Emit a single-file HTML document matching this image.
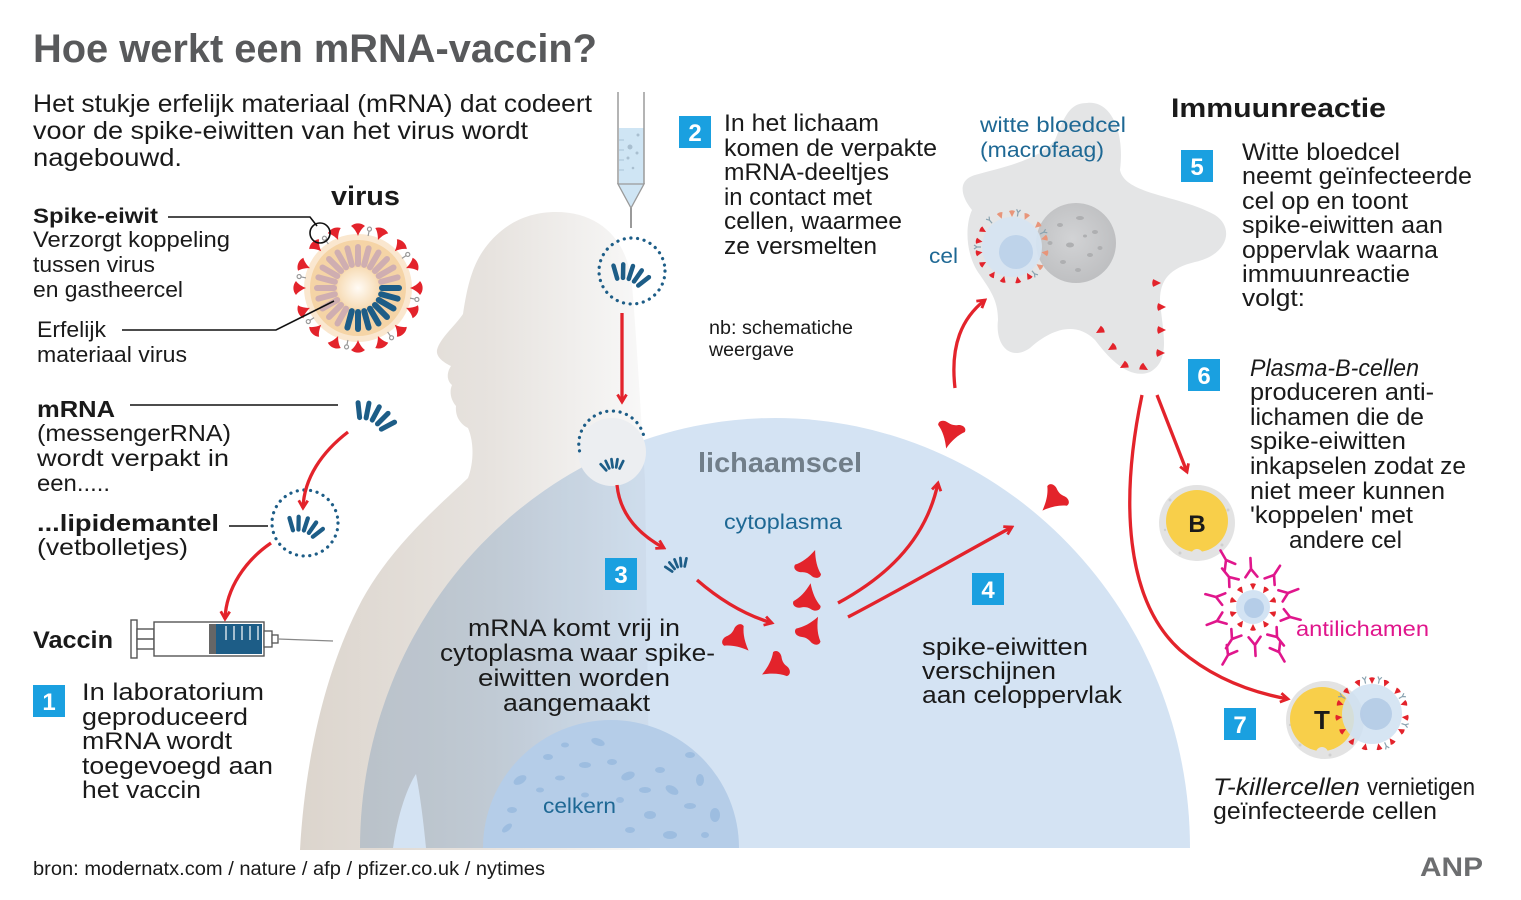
<!DOCTYPE html>
<html><head><meta charset="utf-8">
<style>
html,body{margin:0;padding:0;background:#fff;}
svg{display:block;}
text{font-family:"Liberation Sans",Arial,sans-serif;fill:#1a1a1a;}
.b{font-weight:bold;}
.t{font-size:23px;}
.s{font-size:21px;}
.bl{fill:#1e6894;font-size:21px;}
.num{fill:#fff;font-weight:bold;font-size:24px;}
</style></head>
<body>
<svg width="1521" height="900" viewBox="0 0 1521 900" xmlns="http://www.w3.org/2000/svg">
<defs>
 <linearGradient id="bodyg" x1="300" y1="0" x2="650" y2="0" gradientUnits="userSpaceOnUse">
  <stop offset="0" stop-color="#dcd5cd"/>
  <stop offset="0.55" stop-color="#e7e3df"/>
  <stop offset="1" stop-color="#f9f9f9"/>
 </linearGradient>
 <radialGradient id="core" cx="0.5" cy="0.5" r="0.5">
  <stop offset="0" stop-color="#fffbf5"/><stop offset="1" stop-color="#f7dcb6"/>
 </radialGradient>
 <radialGradient id="nuc" cx="0.45" cy="0.45" r="0.6">
  <stop offset="0" stop-color="#d2d3d5"/><stop offset="1" stop-color="#bdbec0"/>
 </radialGradient>
 <marker id="ah" viewBox="0 0 12 12" refX="9.5" refY="6" markerWidth="12" markerHeight="12" markerUnits="userSpaceOnUse" orient="auto">
  <path d="M2,1.5 L9.5,6 L2,10.5" fill="none" stroke="#e3232b" stroke-width="2.8"/>
 </marker>
 <g id="mr" stroke="#1d5d87" stroke-width="5" stroke-linecap="round" fill="none">
  <g transform="translate(0,30)">
   <line x1="0" y1="-22" x2="0" y2="-37" transform="rotate(-34)"/>
   <line x1="0" y1="-22" x2="0" y2="-37" transform="rotate(-17)"/>
   <line x1="0" y1="-22" x2="0" y2="-37"/>
   <line x1="0" y1="-22" x2="0" y2="-37" transform="rotate(17)"/>
   <line x1="0" y1="-22" x2="0" y2="-37" transform="rotate(34)"/>
  </g>
 </g>
 <path id="vs" d="M0,0 C1.5,-4 4,-8 7,-10 C3,-13.5 -3,-13.5 -7,-10 C-4,-8 -1.5,-4 0,0 Z" fill="#e3232b"/>
 <path id="bs" d="M0,-13 C3,-5 7,1 12,5 C13,9 8,11 4,9 C1,8 -1,8 -4,9 C-8,11 -13,9 -12,5 C-7,1 -3,-5 0,-13 Z" fill="#e3232b"/>
 <path id="ts" d="M0,0 L-3,-6 Q0,-7.5 3,-6 Z" fill="#e3232b"/>
 <path id="tso" d="M0,0 L-3,-6 Q0,-7.5 3,-6 Z" fill="#e8957a"/>
 <g id="gy" stroke="#8aa3b0" stroke-width="1.2" fill="none"><path d="M0,0 L0,-4 M0,-4 L-2,-7 M0,-4 L2,-7"/></g>
 <g id="ab" fill="none" stroke="#e0168c" stroke-width="2.6" stroke-linecap="round"><path d="M0,11 L0,0 M0,0 L-6,-8 M0,0 L6,-8"/></g>
</defs>

<rect width="1521" height="900" fill="#fff"/>

<!-- Title -->
<text x="33" y="62" class="b" font-size="40" textLength="564" lengthAdjust="spacingAndGlyphs" style="fill:#58595b">Hoe werkt een mRNA-vaccin?</text>
<text x="33" y="112" font-size="25" textLength="559" lengthAdjust="spacingAndGlyphs">Het stukje erfelijk materiaal (mRNA) dat codeert</text>
<text x="33" y="139" font-size="25" textLength="495" lengthAdjust="spacingAndGlyphs">voor de spike-eiwitten van het virus wordt</text>
<text x="33" y="166" font-size="25" textLength="149" lengthAdjust="spacingAndGlyphs">nagebouwd.</text>

<!-- body silhouette -->
<path d="M300,850 C305,760 325,670 362,600 C392,545 440,505 468,478 C474,462 474,442 468,428 C460,424 455,416 456,406 C451,400 449,392 452,385 C446,380 447,372 451,366 C443,362 436,357 437,350 C440,338 455,326 463,314 C466,295 470,268 485,248 C502,225 526,212 556,212 C600,212 628,240 632,285 C636,330 640,400 645,480 L650,850 Z" fill="url(#bodyg)"/>

<!-- lichaamscel -->
<path d="M360,848 A415,430 0 0 1 1190,848 Z" fill="#d4e3f3" style="mix-blend-mode:multiply"/>
<path d="M393,848 C398,812 408,786 416,774 C421,800 424,828 426,848 Z" fill="#d4e3f3"/>
<!-- nucleus -->
<path d="M483,848 A128,128 0 0 1 739,848 Z" fill="#b5cde8"/>
<g fill="#9dbde0">
 <ellipse cx="520" cy="780" rx="7" ry="4" transform="rotate(-30 520 780)"/>
 <ellipse cx="512" cy="810" rx="5" ry="3"/>
 <ellipse cx="507" cy="828" rx="6" ry="3" transform="rotate(-40 507 828)"/>
 <ellipse cx="548" cy="757" rx="5" ry="3"/>
 <ellipse cx="565" cy="745" rx="4" ry="2.5"/>
 <ellipse cx="585" cy="765" rx="6" ry="3"/>
 <ellipse cx="598" cy="742" rx="7" ry="3.5" transform="rotate(20 598 742)"/>
 <ellipse cx="612" cy="762" rx="5" ry="3"/>
 <ellipse cx="628" cy="776" rx="7" ry="4" transform="rotate(-20 628 776)"/>
 <ellipse cx="645" cy="790" rx="6" ry="3"/>
 <ellipse cx="660" cy="770" rx="5" ry="3"/>
 <ellipse cx="672" cy="790" rx="7" ry="4" transform="rotate(30 672 790)"/>
 <ellipse cx="690" cy="806" rx="6" ry="3"/>
 <ellipse cx="700" cy="780" rx="4" ry="6"/>
 <ellipse cx="715" cy="815" rx="5" ry="7"/>
 <ellipse cx="650" cy="815" rx="6" ry="4"/>
 <ellipse cx="630" cy="830" rx="5" ry="3"/>
 <ellipse cx="670" cy="835" rx="7" ry="4"/>
 <ellipse cx="585" cy="795" rx="4" ry="2.5"/>
 <ellipse cx="540" cy="790" rx="4" ry="2.5"/>
 <ellipse cx="560" cy="778" rx="5" ry="2.5"/>
 <ellipse cx="620" cy="800" rx="4" ry="3"/>
 <ellipse cx="690" cy="755" rx="5" ry="3"/>
 <ellipse cx="705" cy="835" rx="4" ry="3"/>
</g>
<text x="543" y="813" class="bl" textLength="73" lengthAdjust="spacingAndGlyphs">celkern</text>

<!-- Virus -->
<g transform="translate(358,288)">
 <circle r="54" fill="#fae7cf"/>
 <circle r="48" fill="#f5d4a6"/>
 <circle r="21" fill="url(#core)"/>
 <g stroke-width="6" stroke-linecap="round">
  <g stroke="#cfaeb1">
   <line x1="24" x2="41" transform="rotate(120)"/><line x1="24" x2="41" transform="rotate(135)"/>
   <line x1="24" x2="41" transform="rotate(150)"/><line x1="24" x2="41" transform="rotate(165)"/>
   <line x1="24" x2="41" transform="rotate(180)"/><line x1="24" x2="41" transform="rotate(195)"/>
   <line x1="24" x2="41" transform="rotate(210)"/><line x1="24" x2="41" transform="rotate(225)"/>
   <line x1="24" x2="41" transform="rotate(240)"/><line x1="24" x2="41" transform="rotate(255)"/>
   <line x1="24" x2="41" transform="rotate(270)"/><line x1="24" x2="41" transform="rotate(285)"/>
   <line x1="24" x2="41" transform="rotate(300)"/><line x1="24" x2="41" transform="rotate(315)"/>
   <line x1="24" x2="41" transform="rotate(330)"/><line x1="24" x2="41" transform="rotate(345)"/>
  </g>
  <g stroke="#1d5d87">
   <line x1="24" x2="41" transform="rotate(0)"/><line x1="24" x2="41" transform="rotate(15)"/>
   <line x1="24" x2="41" transform="rotate(30)"/><line x1="24" x2="41" transform="rotate(45)"/>
   <line x1="24" x2="41" transform="rotate(60)"/><line x1="24" x2="41" transform="rotate(75)"/>
   <line x1="24" x2="41" transform="rotate(90)"/><line x1="24" x2="41" transform="rotate(105)"/>
  </g>
 </g>
 <use href="#vs" transform="rotate(0) translate(0,-52)"/>
 <use href="#vs" transform="rotate(22.5) translate(0,-52)"/>
 <use href="#vs" transform="rotate(45) translate(0,-52)"/>
 <use href="#vs" transform="rotate(67.5) translate(0,-52)"/>
 <use href="#vs" transform="rotate(90) translate(0,-52)"/>
 <use href="#vs" transform="rotate(112.5) translate(0,-52)"/>
 <use href="#vs" transform="rotate(135) translate(0,-52)"/>
 <use href="#vs" transform="rotate(157.5) translate(0,-52)"/>
 <use href="#vs" transform="rotate(180) translate(0,-52)"/>
 <use href="#vs" transform="rotate(202.5) translate(0,-52)"/>
 <use href="#vs" transform="rotate(225) translate(0,-52)"/>
 <use href="#vs" transform="rotate(247.5) translate(0,-52)"/>
 <use href="#vs" transform="rotate(270) translate(0,-52)"/>
 <use href="#vs" transform="rotate(292.5) translate(0,-52)"/>
 <use href="#vs" transform="rotate(315) translate(0,-52)"/>
 <use href="#vs" transform="rotate(337.5) translate(0,-52)"/>
 <g stroke="#999" stroke-width="1.2" fill="#fff">
  <g transform="rotate(11)"><line y1="-53" y2="-58"/><circle cy="-60" r="2"/></g>
  <g transform="rotate(56)"><line y1="-53" y2="-58"/><circle cy="-60" r="2"/></g>
  <g transform="rotate(101)"><line y1="-53" y2="-58"/><circle cy="-60" r="2"/></g>
  <g transform="rotate(146)"><line y1="-53" y2="-58"/><circle cy="-60" r="2"/></g>
  <g transform="rotate(191)"><line y1="-53" y2="-58"/><circle cy="-60" r="2"/></g>
  <g transform="rotate(236)"><line y1="-53" y2="-58"/><circle cy="-60" r="2"/></g>
  <g transform="rotate(281)"><line y1="-53" y2="-58"/><circle cy="-60" r="2"/></g>
  <g transform="rotate(326)"><line y1="-53" y2="-58"/><circle cy="-60" r="2"/></g>
 </g>
</g>
<text x="331" y="205" class="b" font-size="27" textLength="69" lengthAdjust="spacingAndGlyphs">virus</text>

<!-- left labels -->
<g stroke="#111" stroke-width="1.6" fill="none">
 <path d="M168,217 L310,217 L317,226"/>
 <circle cx="320" cy="233" r="10"/>
 <path d="M122,330 L276,330 L334,301"/>
 <path d="M130,405 L338,405"/>
 <path d="M229,526 L268,526"/>
</g>
<text x="33" y="223" class="b" font-size="21" textLength="125" lengthAdjust="spacingAndGlyphs">Spike-eiwit</text>
<text x="33" y="247" font-size="22" textLength="197" lengthAdjust="spacingAndGlyphs">Verzorgt koppeling</text>
<text x="33" y="272" font-size="22" textLength="122" lengthAdjust="spacingAndGlyphs">tussen virus</text>
<text x="33" y="297" font-size="22" textLength="150" lengthAdjust="spacingAndGlyphs">en gastheercel</text>
<text x="37" y="337" font-size="22" textLength="69" lengthAdjust="spacingAndGlyphs">Erfelijk</text>
<text x="37" y="362" font-size="22" textLength="150" lengthAdjust="spacingAndGlyphs">materiaal virus</text>
<text x="37" y="417" class="b" font-size="23" textLength="78" lengthAdjust="spacingAndGlyphs">mRNA</text>
<text x="37" y="441" class="t" textLength="194" lengthAdjust="spacingAndGlyphs">(messengerRNA)</text>
<text x="37" y="466" class="t" textLength="192" lengthAdjust="spacingAndGlyphs">wordt verpakt in</text>
<text x="37" y="491" class="t" textLength="73" lengthAdjust="spacingAndGlyphs">een.....</text>
<text x="37" y="531" class="b" font-size="23" textLength="182" lengthAdjust="spacingAndGlyphs">...lipidemantel</text>
<text x="37" y="555" class="t" textLength="151" lengthAdjust="spacingAndGlyphs">(vetbolletjes)</text>

<!-- mRNA + lipid -->
<use href="#mr" transform="translate(376,413) rotate(28)"/>
<circle cx="305" cy="523" r="33" fill="none" stroke="#1d5d87" stroke-width="3.2" stroke-dasharray="0.1 6.6" stroke-linecap="round"/>
<use href="#mr" transform="translate(306,524) rotate(18) scale(0.85)"/>

<!-- Syringe -->
<text x="33" y="648" class="b" font-size="24" textLength="80" lengthAdjust="spacingAndGlyphs">Vaccin</text>
<g stroke="#555" stroke-width="1.4" fill="#fff">
 <rect x="131" y="620" width="6" height="38"/>
 <rect x="137" y="629" width="17" height="20"/>
 <line x1="137" y1="639" x2="154" y2="639"/>
 <rect x="154" y="622" width="110" height="34"/>
</g>
<rect x="214" y="624" width="48" height="30" fill="#1d5d87"/>
<rect x="209" y="624" width="7" height="30" fill="#666"/>
<g stroke="#fff" stroke-width="1.2">
 <line x1="226" y1="626" x2="226" y2="640"/><line x1="234" y1="626" x2="234" y2="640"/>
 <line x1="242" y1="626" x2="242" y2="640"/><line x1="250" y1="626" x2="250" y2="640"/>
 <line x1="258" y1="626" x2="258" y2="640"/>
</g>
<g stroke="#555" stroke-width="1.3" fill="#fff">
 <rect x="264" y="631" width="8" height="16"/>
 <rect x="272" y="635" width="6" height="8"/>
</g>
<line x1="278" y1="639" x2="333" y2="641" stroke="#888" stroke-width="1.3"/>

<!-- step 1 -->
<rect x="33" y="685" width="32" height="32" fill="#1aa0e0"/>
<text x="49" y="710" class="num" text-anchor="middle">1</text>
<text x="82" y="700" font-size="24" textLength="182" lengthAdjust="spacingAndGlyphs">In laboratorium</text>
<text x="82" y="725" font-size="24" textLength="166" lengthAdjust="spacingAndGlyphs">geproduceerd</text>
<text x="82" y="749" font-size="24" textLength="150" lengthAdjust="spacingAndGlyphs">mRNA wordt</text>
<text x="82" y="774" font-size="24" textLength="191" lengthAdjust="spacingAndGlyphs">toegevoegd aan</text>
<text x="82" y="798" font-size="24" textLength="119" lengthAdjust="spacingAndGlyphs">het vaccin</text>

<text x="33" y="875" font-size="19" textLength="512" lengthAdjust="spacingAndGlyphs">bron: modernatx.com / nature / afp / pfizer.co.uk / nytimes</text>
<text x="1420" y="876" class="b" font-size="27" textLength="63" lengthAdjust="spacingAndGlyphs" style="fill:#6d6e70">ANP</text>

<!-- Pipette -->
<rect x="619" y="128" width="25" height="56" fill="#cfe5f4"/>
<path d="M618,184 L644,184 L631,208 Z" fill="#cfe5f4" stroke="#9a9a9a" stroke-width="1.3"/>
<g stroke="#9a9a9a" stroke-width="1.5">
 <line x1="618" y1="92" x2="618" y2="184"/>
 <line x1="644" y1="92" x2="644" y2="184"/>
 <line x1="631" y1="208" x2="631" y2="228" stroke-width="2"/>
</g>
<g stroke="#a9c3d6" stroke-width="1">
 <line x1="619" y1="140" x2="624" y2="140"/><line x1="619" y1="150" x2="624" y2="150"/>
 <line x1="619" y1="160" x2="624" y2="160"/><line x1="619" y1="170" x2="624" y2="170"/>
</g>
<g fill="#a9bfd0">
 <circle cx="630" cy="147" r="2.5"/><circle cx="638" cy="135" r="1.5"/>
 <circle cx="628" cy="158" r="1.5"/><circle cx="637" cy="153" r="1.5"/><circle cx="633" cy="168" r="1.3"/>
</g>

<circle cx="632" cy="271" r="33" fill="none" stroke="#1d5d87" stroke-width="3.2" stroke-dasharray="0.1 6.6" stroke-linecap="round"/>
<use href="#mr" transform="translate(631,272) rotate(18) scale(0.9)"/>

<!-- Lipid 3 merging -->
<circle cx="612" cy="452" r="34" fill="#eceef1"/>
<path d="M579,452 A33,33 0 0 1 645,452" fill="none" stroke="#1d5d87" stroke-width="3.2" stroke-dasharray="0.1 6.6" stroke-linecap="round" transform="rotate(-12 612 445) translate(0,-8)"/>
<use href="#mr" transform="translate(612,463) rotate(-8) scale(0.55)"/>
<use href="#mr" transform="translate(676,563) rotate(-22) scale(0.55)"/>

<!-- Step 2 -->
<rect x="679" y="116" width="32" height="32" fill="#1aa0e0"/>
<text x="695" y="141" class="num" text-anchor="middle">2</text>
<text x="724" y="131" font-size="24" textLength="155" lengthAdjust="spacingAndGlyphs">In het lichaam</text>
<text x="724" y="156" font-size="24" textLength="213" lengthAdjust="spacingAndGlyphs">komen de verpakte</text>
<text x="724" y="180" font-size="24" textLength="165" lengthAdjust="spacingAndGlyphs">mRNA-deeltjes</text>
<text x="724" y="205" font-size="24" textLength="148" lengthAdjust="spacingAndGlyphs">in contact met</text>
<text x="724" y="229" font-size="24" textLength="178" lengthAdjust="spacingAndGlyphs">cellen, waarmee</text>
<text x="724" y="254" font-size="24" textLength="153" lengthAdjust="spacingAndGlyphs">ze versmelten</text>
<text x="709" y="334" font-size="19" textLength="144" lengthAdjust="spacingAndGlyphs">nb: schematiche</text>
<text x="709" y="356" font-size="19" textLength="85" lengthAdjust="spacingAndGlyphs">weergave</text>

<text x="698" y="472" class="b" font-size="28" textLength="164" lengthAdjust="spacingAndGlyphs" style="fill:#717e89">lichaamscel</text>
<text x="724" y="529" class="bl" textLength="118" lengthAdjust="spacingAndGlyphs">cytoplasma</text>

<!-- Step 3 -->
<rect x="605" y="558" width="32" height="32" fill="#1aa0e0"/>
<text x="621" y="583" class="num" text-anchor="middle">3</text>
<text x="468" y="636" font-size="24" textLength="212" lengthAdjust="spacingAndGlyphs">mRNA komt vrij in</text>
<text x="440" y="661" font-size="24" textLength="275" lengthAdjust="spacingAndGlyphs">cytoplasma waar spike-</text>
<text x="478" y="686" font-size="24" textLength="192" lengthAdjust="spacingAndGlyphs">eiwitten worden</text>
<text x="503" y="711" font-size="24" textLength="147" lengthAdjust="spacingAndGlyphs">aangemaakt</text>

<!-- cytoplasm spikes -->
<use href="#bs" transform="translate(810,564) rotate(20) scale(1.15)"/>
<use href="#bs" transform="translate(808,598) rotate(10) scale(1.15)"/>
<use href="#bs" transform="translate(811,630) rotate(28) scale(1.15)"/>
<use href="#bs" transform="translate(738,640) rotate(135) scale(1.15)"/>
<use href="#bs" transform="translate(775,667) rotate(-120) scale(1.15)"/>
<use href="#bs" transform="translate(950,434) rotate(195) scale(1.15)"/>
<use href="#bs" transform="translate(1053,500) rotate(225) scale(1.15)"/>

<!-- Step 4 -->
<rect x="972" y="573" width="32" height="32" fill="#1aa0e0"/>
<text x="988" y="598" class="num" text-anchor="middle">4</text>
<text x="922" y="655" font-size="24" textLength="166" lengthAdjust="spacingAndGlyphs">spike-eiwitten</text>
<text x="922" y="679" font-size="24" textLength="134" lengthAdjust="spacingAndGlyphs">verschijnen</text>
<text x="922" y="703" font-size="24" textLength="200" lengthAdjust="spacingAndGlyphs">aan celoppervlak</text>

<!-- Macrophage -->
<path d="M1087,103 C1110,100 1125,130 1120,170 C1125,195 1180,195 1215,215 C1235,228 1228,255 1195,262 C1170,268 1160,280 1160,300 C1162,330 1172,360 1150,372 C1130,380 1110,360 1095,340 C1075,320 1050,330 1030,348 C1010,362 995,345 998,320 C998,300 990,290 980,275 C965,255 965,225 972,210 C960,195 958,180 975,175 C1000,168 1040,160 1055,140 C1065,115 1070,103 1087,103 Z" fill="#e4e5e6"/>
<circle cx="1076" cy="243" r="40" fill="url(#nuc)"/>
<g fill="#aeafb1">
 <ellipse cx="1060" cy="225" rx="3" ry="2"/><ellipse cx="1080" cy="218" rx="4" ry="2"/>
 <ellipse cx="1095" cy="232" rx="3" ry="2"/><ellipse cx="1070" cy="245" rx="4" ry="2.5"/>
 <ellipse cx="1090" cy="255" rx="3" ry="2"/><ellipse cx="1063" cy="262" rx="3" ry="2"/>
 <ellipse cx="1100" cy="248" rx="2.5" ry="2"/><ellipse cx="1078" cy="270" rx="3" ry="2"/>
 <ellipse cx="1050" cy="243" rx="2.5" ry="2"/><ellipse cx="1085" cy="236" rx="2" ry="1.5"/>
</g>
<circle cx="1012" cy="247" r="30" fill="#d6e4f2" opacity="0.92"/>
<circle cx="1016" cy="252" r="17" fill="#bed3ea"/>
<g transform="translate(1012,247)">
 <use href="#ts" transform="rotate(-100) translate(0,-30)"/>
 <use href="#ts" transform="rotate(-80) translate(0,-30)"/>
 <use href="#ts" transform="rotate(-120) translate(0,-30)"/>
 <use href="#ts" transform="rotate(-145) translate(0,-30)"/>
 <use href="#ts" transform="rotate(-165) translate(0,-30)"/>
 <use href="#ts" transform="rotate(-60) translate(0,-30)"/>
 <use href="#tso" transform="rotate(-20) translate(0,-30)"/>
 <use href="#tso" transform="rotate(0) translate(0,-30)"/>
 <use href="#tso" transform="rotate(25) translate(0,-30)"/>
 <use href="#tso" transform="rotate(50) translate(0,-30)"/>
 <use href="#tso" transform="rotate(75) translate(0,-30)"/>
 <use href="#tso" transform="rotate(100) translate(0,-30)"/>
 <use href="#tso" transform="rotate(125) translate(0,-30)"/>
 <use href="#ts" transform="rotate(150) translate(0,-30)"/>
 <use href="#ts" transform="rotate(170) translate(0,-30)"/>
 <use href="#gy" transform="rotate(-90) translate(0,-31)"/>
 <use href="#gy" transform="rotate(-40) translate(0,-31)"/>
 <use href="#gy" transform="rotate(10) translate(0,-31)"/>
 <use href="#gy" transform="rotate(65) translate(0,-31)"/>
 <use href="#gy" transform="rotate(140) translate(0,-31)"/>
</g>
<use href="#ts" transform="translate(1161,283) rotate(-90) scale(1.3)"/>
<use href="#ts" transform="translate(1166,307) rotate(-90) scale(1.3)"/>
<use href="#ts" transform="translate(1166,330) rotate(-90) scale(1.3)"/>
<use href="#ts" transform="translate(1165,353) rotate(-90) scale(1.3)"/>
<use href="#ts" transform="translate(1148,370) rotate(-60) scale(1.3)"/>
<use href="#ts" transform="translate(1096,333) rotate(60) scale(1.3)"/>
<use href="#ts" transform="translate(1108,350) rotate(60) scale(1.3)"/>
<use href="#ts" transform="translate(1120,368) rotate(60) scale(1.3)"/>

<text x="980" y="132" class="bl" textLength="146" lengthAdjust="spacingAndGlyphs">witte bloedcel</text>
<text x="980" y="157" class="bl" textLength="124" lengthAdjust="spacingAndGlyphs">(macrofaag)</text>
<text x="929" y="263" class="bl" textLength="29" lengthAdjust="spacingAndGlyphs">cel</text>

<!-- Immuunreactie -->
<text x="1171" y="117" class="b" font-size="27" textLength="215" lengthAdjust="spacingAndGlyphs">Immuunreactie</text>
<rect x="1181" y="150" width="32" height="32" fill="#1aa0e0"/>
<text x="1197" y="175" class="num" text-anchor="middle">5</text>
<text x="1242" y="160" font-size="24" textLength="158" lengthAdjust="spacingAndGlyphs">Witte bloedcel</text>
<text x="1242" y="184" font-size="24" textLength="230" lengthAdjust="spacingAndGlyphs">neemt geïnfecteerde</text>
<text x="1242" y="209" font-size="24" textLength="166" lengthAdjust="spacingAndGlyphs">cel op en toont</text>
<text x="1242" y="233" font-size="24" textLength="201" lengthAdjust="spacingAndGlyphs">spike-eiwitten aan</text>
<text x="1242" y="258" font-size="24" textLength="196" lengthAdjust="spacingAndGlyphs">oppervlak waarna</text>
<text x="1242" y="282" font-size="24" textLength="168" lengthAdjust="spacingAndGlyphs">immuunreactie</text>
<text x="1242" y="306" font-size="24" textLength="63" lengthAdjust="spacingAndGlyphs">volgt:</text>

<rect x="1188" y="359" width="32" height="32" fill="#1aa0e0"/>
<text x="1204" y="384" class="num" text-anchor="middle">6</text>
<text x="1250" y="376" font-size="24" font-style="italic" textLength="169" lengthAdjust="spacingAndGlyphs">Plasma-B-cellen</text>
<text x="1250" y="400" font-size="24" textLength="184" lengthAdjust="spacingAndGlyphs">produceren anti-</text>
<text x="1250" y="425" font-size="24" textLength="174" lengthAdjust="spacingAndGlyphs">lichamen die de</text>
<text x="1250" y="449" font-size="24" textLength="156" lengthAdjust="spacingAndGlyphs">spike-eiwitten</text>
<text x="1250" y="474" font-size="24" textLength="216" lengthAdjust="spacingAndGlyphs">inkapselen zodat ze</text>
<text x="1250" y="499" font-size="24" textLength="195" lengthAdjust="spacingAndGlyphs">niet meer kunnen</text>
<text x="1250" y="523" font-size="24" textLength="163" lengthAdjust="spacingAndGlyphs">'koppelen' met</text>
<text x="1289" y="548" font-size="24" textLength="113" lengthAdjust="spacingAndGlyphs">andere cel</text>

<!-- B cell -->
<circle cx="1197" cy="523" r="38" fill="#e3e3e3"/>
<g fill="#cfcfcf"><circle cx="1170" cy="500" r="1.5"/><circle cx="1228" cy="510" r="1.5"/><circle cx="1180" cy="553" r="1.5"/><circle cx="1222" cy="545" r="1.5"/><circle cx="1165" cy="530" r="1.2"/></g>
<circle cx="1197" cy="521" r="31" fill="#f8cf4a"/>
<circle cx="1197" cy="555" r="6" fill="#e3e3e3"/>
<text x="1197" y="532" class="b" font-size="24" text-anchor="middle">B</text>

<!-- antibody cluster -->
<circle cx="1253" cy="607" r="17" fill="#d3e3f3"/>
<circle cx="1254" cy="608" r="10" fill="#b5cde8"/>
<g transform="translate(1253,607)">
 <use href="#ts" transform="rotate(0) translate(0,-17)"/><use href="#ts" transform="rotate(36) translate(0,-17)"/>
 <use href="#ts" transform="rotate(72) translate(0,-17)"/><use href="#ts" transform="rotate(108) translate(0,-17)"/>
 <use href="#ts" transform="rotate(144) translate(0,-17)"/><use href="#ts" transform="rotate(180) translate(0,-17)"/>
 <use href="#ts" transform="rotate(216) translate(0,-17)"/><use href="#ts" transform="rotate(252) translate(0,-17)"/>
 <use href="#ts" transform="rotate(288) translate(0,-17)"/><use href="#ts" transform="rotate(324) translate(0,-17)"/>
</g>
<use href="#ab" transform="translate(1290,617) rotate(-75)"/>
<use href="#ab" transform="translate(1277,637) rotate(-39)"/>
<use href="#ab" transform="translate(1255,645) rotate(-3)"/>
<use href="#ab" transform="translate(1232,639) rotate(33)"/>
<use href="#ab" transform="translate(1217,621) rotate(69)"/>
<use href="#ab" transform="translate(1216,597) rotate(105)"/>
<use href="#ab" transform="translate(1229,577) rotate(141)"/>
<use href="#ab" transform="translate(1251,569) rotate(177)"/>
<use href="#ab" transform="translate(1274,575) rotate(213)"/>
<use href="#ab" transform="translate(1288,593) rotate(249)"/>
<use href="#ab" transform="translate(1226,560) rotate(150)"/>
<use href="#ab" transform="translate(1279,652) rotate(-30)"/>
<use href="#ab" transform="translate(1228,655) rotate(30)"/>
<text x="1296" y="636" font-size="21" textLength="133" lengthAdjust="spacingAndGlyphs" style="fill:#e0168c">antilichamen</text>

<!-- T cell -->
<circle cx="1325" cy="720" r="39" fill="#e3e3e3"/>
<g fill="#cfcfcf"><circle cx="1298" cy="700" r="1.5"/><circle cx="1300" cy="745" r="1.5"/><circle cx="1330" cy="755" r="1.5"/><circle cx="1290" cy="725" r="1.2"/></g>
<circle cx="1322" cy="719" r="32" fill="#f8cf4a"/>
<circle cx="1322" cy="753" r="6" fill="#e3e3e3"/>
<circle cx="1372" cy="714" r="30" fill="#cfe0f1" opacity="0.85"/>
<circle cx="1376" cy="714" r="16" fill="#b4cbe6" opacity="0.9"/>
<g transform="translate(1372,714)">
 <use href="#ts" transform="rotate(0) translate(0,-30)"/><use href="#ts" transform="rotate(24) translate(0,-30)"/>
 <use href="#ts" transform="rotate(48) translate(0,-30)"/><use href="#ts" transform="rotate(72) translate(0,-30)"/>
 <use href="#ts" transform="rotate(96) translate(0,-30)"/><use href="#ts" transform="rotate(120) translate(0,-30)"/>
 <use href="#ts" transform="rotate(144) translate(0,-30)"/><use href="#ts" transform="rotate(168) translate(0,-30)"/>
 <use href="#ts" transform="rotate(192) translate(0,-30)"/><use href="#ts" transform="rotate(216) translate(0,-30)"/>
 <use href="#ts" transform="rotate(240) translate(0,-30)"/><use href="#ts" transform="rotate(264) translate(0,-30)"/>
 <use href="#ts" transform="rotate(288) translate(0,-30)"/><use href="#ts" transform="rotate(312) translate(0,-30)"/>
 <use href="#ts" transform="rotate(336) translate(0,-30)"/>
 <use href="#gy" transform="rotate(12) translate(0,-31)"/><use href="#gy" transform="rotate(60) translate(0,-31)"/>
 <use href="#gy" transform="rotate(108) translate(0,-31)"/><use href="#gy" transform="rotate(156) translate(0,-31)"/>
 <use href="#gy" transform="rotate(300) translate(0,-31)"/><use href="#gy" transform="rotate(348) translate(0,-31)"/>
</g>
<text x="1322" y="729" class="b" font-size="26" text-anchor="middle">T</text>

<rect x="1224" y="708" width="32" height="32" fill="#1aa0e0"/>
<text x="1240" y="733" class="num" text-anchor="middle">7</text>
<text x="1213" y="795" font-size="24" font-style="italic" textLength="147" lengthAdjust="spacingAndGlyphs">T-killercellen</text>
<text x="1367" y="795" font-size="24" textLength="108" lengthAdjust="spacingAndGlyphs">vernietigen</text>
<text x="1213" y="819" font-size="24" textLength="224" lengthAdjust="spacingAndGlyphs">geïnfecteerde cellen</text>

<!-- Arrows -->
<g fill="none" stroke="#e3232b" stroke-width="3.3" marker-end="url(#ah)">
 <path d="M348,432 C322,452 304,478 303,508"/>
 <path d="M271,543 C246,560 226,588 225,619"/>
 <path d="M622,313 L622,402"/>
 <path d="M617,485 C620,515 640,535 664,548"/>
 <path d="M697,580 C720,600 745,615 772,623"/>
 <path d="M838,603 C880,580 925,545 938,483"/>
 <path d="M848,617 C900,590 960,555 1012,527"/>
 <path d="M955,388 C950,345 962,318 985,300"/>
 <path d="M1157,395 L1187,472"/>
 <path d="M1142,395 C1120,500 1125,600 1180,650 C1215,680 1255,693 1288,699"/>
</g>
</svg>
</body></html>
